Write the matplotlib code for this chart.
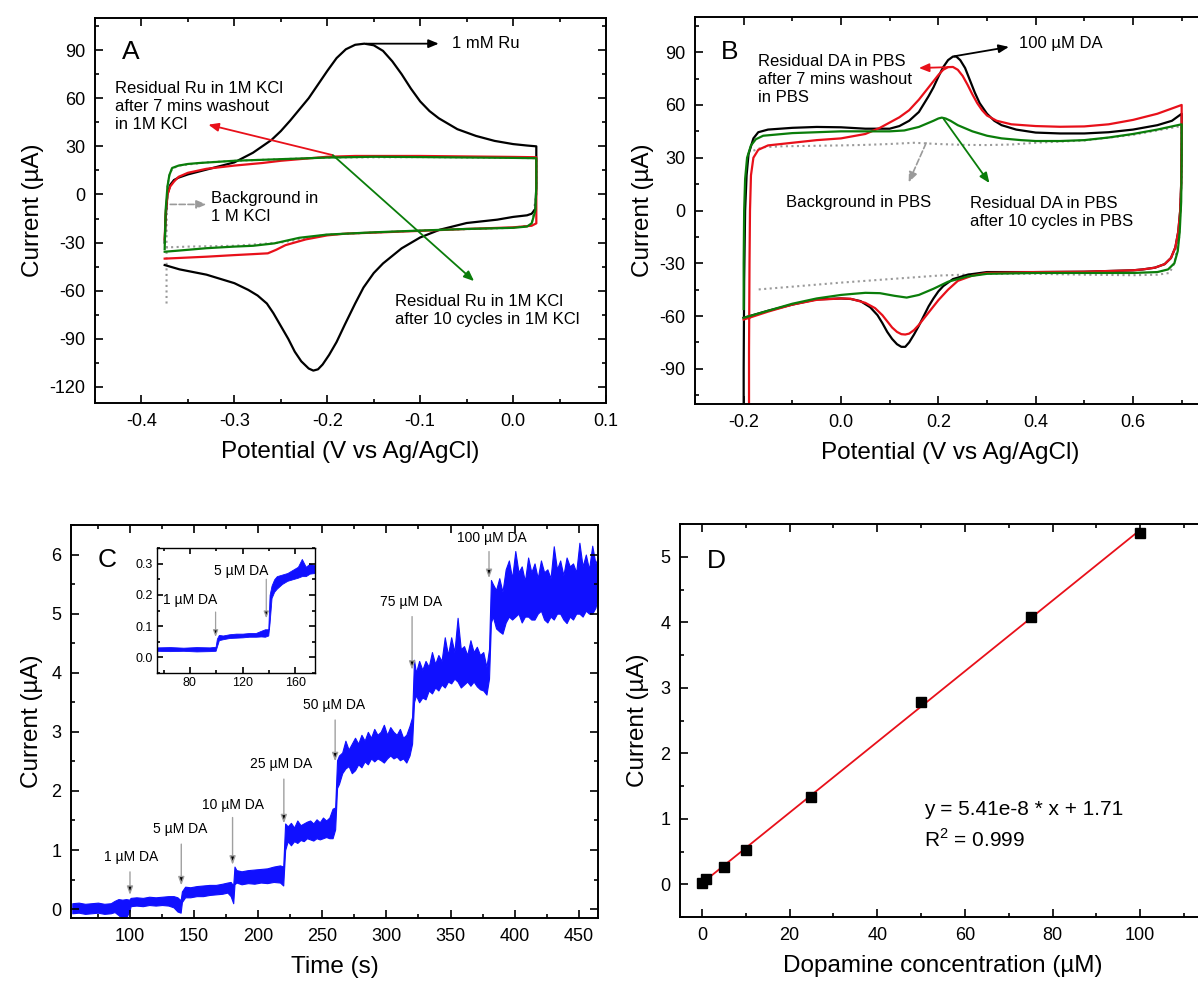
import numpy as np
import matplotlib
matplotlib.use('Agg')
import matplotlib.pyplot as plt
from matplotlib.ticker import MultipleLocator

plt.rcParams['font.family'] = ['Liberation Sans', 'DejaVu Sans']
plt.rcParams['mathtext.fontset'] = 'custom'
plt.rcParams['mathtext.rm'] = 'Liberation Sans'
plt.rcParams['axes.unicode_minus'] = False

RED = '#e8101a'
GREEN = '#0a7d0a'
GRAY = '#9a9a9a'
BLUE = '#1010ff'

# ---------------- panel A: CV in 1M KCl ----------------
a_black_v = [-0.375, -0.374, -0.372, -0.369, -0.365, -0.36, -0.35, -0.33, -0.3, -0.28, -0.26, -0.25,
             -0.24, -0.23, -0.22, -0.21, -0.2, -0.19, -0.18, -0.17, -0.16, -0.15, -0.14, -0.13,
             -0.12, -0.11, -0.1, -0.09, -0.08, -0.06, -0.04, -0.02, 0.0, 0.015, 0.025,
             0.025, 0.024, 0.02, 0.015, 0.0, -0.017, -0.05, -0.079, -0.1, -0.12, -0.14, -0.15,
             -0.161, -0.17, -0.181, -0.19, -0.198, -0.205, -0.21, -0.215, -0.22, -0.228, -0.235,
             -0.242, -0.25, -0.258, -0.265, -0.275, -0.285, -0.3, -0.33, -0.359, -0.375]
a_black_i = [-30, -15, 0, 6, 9, 10.5, 12.5, 15.5, 20, 26, 34, 39.5, 46, 53, 60, 68.5, 77, 85, 90.5,
             93.3, 94, 93, 89.5, 83, 75, 66, 58, 52, 47.5, 40.7, 36.5, 33.4, 31.4, 30.5, 30,
             5, -9, -12, -13, -14, -15.7, -17.8, -22, -26.8, -33.6, -43, -49, -58, -68, -81, -92,
             -100, -106, -109, -109.8, -108.5, -104, -98, -90, -82, -74, -68, -63, -59.5, -55.3,
             -50, -46.7, -44]

a_red_v = [-0.375, -0.374, -0.372, -0.369, -0.365, -0.36, -0.35, -0.33, -0.3, -0.27, -0.25, -0.22,
           -0.2, -0.17, -0.15, -0.1, -0.05, 0.0, 0.025, 0.025, 0.02, 0.0, -0.05, -0.1, -0.15, -0.18,
           -0.2, -0.223, -0.245, -0.255, -0.264, -0.28, -0.3, -0.33, -0.36, -0.375]
a_red_i = [-28, -12, 0, 5, 8, 11, 13.5, 16, 18, 19.6, 21, 22.5, 23.5, 24, 24, 24, 23.7, 23.4, 23.2,
           -18, -19.5, -20.5, -21.5, -22.7, -23.8, -24.4, -25.5, -28, -31.6, -34.5, -36.7, -37.2,
           -37.8, -38.8, -39.6, -40]

a_green_v = [-0.375, -0.374, -0.372, -0.37, -0.367, -0.36, -0.35, -0.338, -0.3, -0.25, -0.2, -0.15,
             -0.1, 0.0, 0.025, 0.025, 0.024, 0.02, 0.015, 0.0, -0.05, -0.1, -0.15, -0.2, -0.23,
             -0.257, -0.28, -0.3, -0.33, -0.36, -0.375]
a_green_i = [-34, -10, 5, 12, 16.5, 18, 19, 19.6, 21, 22, 23, 23.5, 23.3, 22.8, 22.6, 5, -10, -18,
             -20, -20.8, -21.5, -22.5, -23.6, -25, -27, -30.5, -32, -32.5, -33.5, -35, -35.7]

a_bg_v = [-0.373, -0.373, -0.372, -0.37, -0.367, -0.36, -0.33, -0.3, -0.2, -0.1, 0.0, 0.025, 0.025,
          0.02, 0.0, -0.1, -0.2, -0.25, -0.3, -0.35, -0.373]
a_bg_i = [-68, -20, 5, 12, 16, 18, 20, 21, 23, 23.3, 22.8, 22.6, 0, -19, -20.8, -22.5, -25, -30,
          -32, -32.5, -33]

# ---------------- panel B: CV in PBS ----------------
b_black_v = [-0.2, -0.2, -0.199, -0.197, -0.194, -0.19, -0.18, -0.17, -0.15, -0.1, -0.05, 0.0, 0.05,
             0.1, 0.12, 0.14, 0.16, 0.18, 0.19, 0.2, 0.21, 0.22, 0.23, 0.237, 0.245, 0.255, 0.265,
             0.275, 0.285, 0.3, 0.315, 0.33, 0.36, 0.4, 0.45, 0.5, 0.55, 0.6, 0.65, 0.68, 0.7,
             0.7, 0.699, 0.697, 0.693, 0.687, 0.678, 0.665, 0.645, 0.62, 0.6, 0.5, 0.4, 0.3, 0.26,
             0.23, 0.21, 0.2, 0.19, 0.18, 0.17, 0.16, 0.15, 0.14, 0.132, 0.124, 0.115, 0.105,
             0.095, 0.085, 0.075, 0.06, 0.04, 0.02, 0.0, -0.05, -0.1, -0.15, -0.2]
b_black_i = [-130, -90, -40, 0, 20, 32, 41, 44.5, 46, 47, 47.5, 47.3, 46.5, 46.5, 48, 51, 56, 65, 70,
             76, 81.5, 85.5, 87.5, 87.5, 85.5, 81, 74, 67, 61, 55, 51, 48.5, 46, 44.3, 43.8, 43.8,
             44.5, 46, 48.5, 51, 55, 40, 15, 0, -12, -21, -27, -30.5, -32.5, -33.5, -34, -34.8,
             -35, -35, -36.5, -39, -43, -46, -50, -54.5, -60, -65.5, -70.5, -75, -77.5, -77.5,
             -76, -73, -69, -64, -59.5, -55, -51.5, -50.3, -50, -50.5, -53.5, -57, -61]

b_red_v = [-0.189, -0.189, -0.188, -0.187, -0.185, -0.18, -0.17, -0.15, -0.1, -0.05, 0.0, 0.05, 0.08,
           0.1, 0.12, 0.14, 0.16, 0.18, 0.19, 0.2, 0.21, 0.22, 0.23, 0.24, 0.25, 0.26, 0.27, 0.28,
           0.29, 0.3, 0.32, 0.35, 0.4, 0.45, 0.5, 0.55, 0.6, 0.65, 0.7, 0.7, 0.699, 0.697, 0.693,
           0.687, 0.678, 0.665, 0.645, 0.62, 0.6, 0.5, 0.4, 0.3, 0.27, 0.24, 0.22, 0.2, 0.18,
           0.16, 0.15, 0.14, 0.132, 0.124, 0.115, 0.105, 0.095, 0.085, 0.07, 0.05, 0.02, 0.0,
           -0.05, -0.1, -0.15, -0.2]
b_red_i = [-130, -80, -30, 0, 20, 30, 34.5, 37, 38.5, 40, 41, 43.5, 47, 50, 53, 57, 63, 70, 73.5,
           77, 80, 81.5, 81.6, 80, 76.5, 71.5, 66, 61, 57, 54, 51, 49, 48, 47.6, 47.8, 49, 51.5,
           55, 60, 40, 15, 0, -12, -21, -27, -30.5, -32.5, -33.5, -34, -34.8, -35, -35.5, -37,
           -40, -45, -51, -58, -65, -68, -70, -70.5, -70.3, -69, -66.5, -63, -59.5, -55.5, -52.5,
           -50.2, -50, -50.8, -53.5, -57.5, -62]

b_green_v = [-0.2, -0.2, -0.199, -0.197, -0.193, -0.185, -0.175, -0.16, -0.1, -0.05, 0.0, 0.05, 0.1,
             0.13, 0.16, 0.19, 0.2, 0.207, 0.215, 0.225, 0.24, 0.27, 0.3, 0.33, 0.37, 0.4, 0.45,
             0.5, 0.55, 0.6, 0.65, 0.7, 0.7, 0.699, 0.696, 0.692, 0.685, 0.672, 0.65, 0.6, 0.5,
             0.4, 0.3, 0.26, 0.22, 0.19, 0.16, 0.135, 0.11, 0.08, 0.05, 0.02, 0.0, -0.05, -0.1,
             -0.15, -0.2]
b_green_i = [-56, -30, 0, 18, 30, 37, 40.5, 42.5, 44, 44.5, 45, 45, 45, 45.5, 47.5, 51, 52.3, 52.8,
             52.3, 51, 48.5, 45, 42.5, 41, 40, 39.5, 39.5, 40, 41.5, 43.5, 46, 49, 30, 5, -12, -23,
             -30, -33.5, -35, -35.5, -35.5, -35.5, -36, -37.5, -40.5, -44.5, -48, -49.5, -48.5,
             -47, -46.8, -47.5, -48, -50, -53, -57, -61]

b_bg_v = [-0.18, -0.16, -0.12, -0.05, 0.0, 0.05, 0.1, 0.15, 0.2, 0.25, 0.3, 0.35, 0.4, 0.5, 0.6,
          0.65, 0.7, 0.7, 0.695, 0.685, 0.675, 0.65, 0.6, 0.5, 0.4, 0.3, 0.2, 0.1, 0.0, -0.1, -0.175]
b_bg_i = [34, 36, 36.5, 36.8, 37, 37.3, 37.8, 38.5, 37.8, 37.3, 37.2, 37.5, 38.5, 39.8, 43, 45.5, 48,
          20, -15, -30, -35.5, -36.5, -36.8, -36.5, -36, -36, -37, -39, -41, -43.3, -45]

# ---------------- panel C: amperometric trace (noise envelope) ----------------
c_t = [55, 60, 65, 70, 75, 80, 85, 88, 91, 94, 97, 99.5,
       100.5, 105, 110, 115, 120, 125, 130, 134, 137, 139.5,
       140.5, 143, 147, 152, 157, 162, 167, 172, 176, 178.5, 180.5,
       181.5, 183, 187, 192, 197, 202, 207, 212, 217, 219.5,
       221, 223, 225.5, 228, 230.5, 233, 235.5, 238, 240.5, 243, 245.5, 248, 250.5, 253, 255.5,
       258, 260,
       261.5, 263, 265.5, 268, 270.5, 273, 275.5, 278, 280.5, 283, 285.5, 288, 290.5, 293, 295.5,
       298, 300.5, 303, 305.5, 308, 310.5, 313, 315.5, 318, 320,
       321.5, 323, 325.5, 328, 330.5, 333, 335.5, 338, 340.5, 343, 345.5, 348, 350.5, 353, 355.5,
       358, 360.5, 363, 365.5, 368, 370.5, 373, 375.5, 378, 380,
       381.5, 383, 385.5, 388, 390.5, 393, 395.5, 398, 400.5, 403, 405.5, 408, 410.5, 413, 415.5,
       418, 420.5, 423, 425.5, 428, 430.5, 433, 435.5, 438, 440.5, 443, 445.5, 448, 450.5, 453,
       455.5, 458, 460.5, 463, 465]
c_lo = [-0.07, -0.06, -0.08, -0.07, -0.06, -0.08, -0.07, -0.05, -0.10, -0.16, -0.14, -0.04,
        0.05, 0.06, 0.05, 0.07, 0.06, 0.07, 0.06, 0.03, -0.04, -0.06,
        0.12, 0.20, 0.20, 0.22, 0.22, 0.24, 0.25, 0.26, 0.28, 0.22, 0.10,
        0.42, 0.45, 0.42, 0.44, 0.43, 0.45, 0.44, 0.46, 0.45, 0.40,
        1.00, 1.15, 1.08, 1.15, 1.12, 1.17, 1.15, 1.20, 1.18, 1.16, 1.20, 1.18, 1.20, 1.22, 1.20,
        1.20, 1.35,
        2.05, 2.12, 2.30, 2.38, 2.42, 2.30, 2.35, 2.45, 2.40, 2.50, 2.45, 2.55, 2.50, 2.55, 2.52,
        2.48, 2.55, 2.60, 2.55, 2.58, 2.52, 2.55, 2.48, 2.60, 2.80,
        3.50, 3.62, 3.50, 3.58, 3.55, 3.70, 3.65, 3.75, 3.70, 3.80, 3.75, 3.85, 3.82, 3.90, 3.85,
        3.75, 3.80, 3.85, 3.78, 3.85, 3.77, 3.72, 3.70, 3.63, 3.90,
        4.85, 4.95, 4.75, 4.70, 4.66, 4.85, 4.95, 4.90, 4.95, 5.00, 4.85, 4.95, 4.95, 4.90, 4.90,
        5.00, 5.05, 4.90, 4.85, 4.95, 4.90, 5.00, 5.00, 4.90, 4.84, 4.95, 4.90, 5.00, 5.00, 4.95,
        5.05, 5.00, 5.00, 5.10, 5.30]
c_hi = [0.10, 0.11, 0.09, 0.10, 0.11, 0.09, 0.10, 0.14, 0.17, 0.16, 0.17, 0.16,
        0.19, 0.20, 0.19, 0.21, 0.20, 0.21, 0.22, 0.22, 0.20, 0.15,
        0.30, 0.38, 0.37, 0.39, 0.40, 0.41, 0.41, 0.43, 0.45, 0.46, 0.40,
        0.72, 0.66, 0.64, 0.66, 0.67, 0.68, 0.69, 0.72, 0.74, 0.72,
        1.45, 1.40, 1.46, 1.38, 1.50, 1.42, 1.45, 1.48, 1.50, 1.45, 1.52, 1.47, 1.55, 1.50, 1.55,
        1.70, 1.72,
        2.52, 2.60, 2.65, 2.85, 2.70, 2.80, 2.90, 2.80, 2.95, 2.85, 3.00, 2.90, 3.05, 2.95, 3.00,
        3.12, 2.95, 3.08, 3.00, 2.95, 3.05, 2.90, 2.95, 3.10, 3.25,
        4.22, 4.00, 4.20, 4.05, 4.20, 4.10, 4.35, 4.15, 4.30, 4.20, 4.60, 4.30, 4.60, 4.35, 4.93,
        4.40, 4.45, 4.30, 4.55, 4.35, 4.44, 4.30, 4.35, 4.10, 4.40,
        5.57, 5.50, 5.40, 5.60, 5.37, 5.75, 5.90, 5.60, 6.06, 5.70, 5.80, 5.55, 5.95, 5.70, 5.85,
        5.60, 5.90, 5.70, 5.75, 5.60, 6.14, 5.75, 5.90, 5.65, 5.95, 5.80, 5.85, 5.70, 6.20, 5.80,
        6.00, 5.75, 6.15, 5.85, 5.95]

c_inj_t = [100, 140, 180, 220, 260, 320, 380]
c_inj_lab = ['1 µM DA', '5 µM DA', '10 µM DA', '25 µM DA', '50 µM DA', '75 µM DA', '100 µM DA']
c_arrow_top = [0.63, 1.10, 1.55, 2.20, 3.20, 4.95, 6.05]
c_arrow_tip = [0.24, 0.40, 0.75, 1.45, 2.50, 4.05, 5.60]
c_lab_x = [101, 139, 180, 218, 259, 319, 382]
c_lab_y = [0.89, 1.35, 1.76, 2.45, 3.46, 5.19, 6.28]

# inset
ci_t = [55, 65, 75, 85, 95, 99.5,
        100.5, 102, 105, 110, 115, 120, 125, 130, 134, 137, 139.5,
        140.5, 142, 144, 146, 150, 154, 158, 162, 165, 168, 171, 175]
ci_lo = [0.021, 0.020, 0.021, 0.019, 0.020, 0.021,
         0.035, 0.055, 0.058, 0.062, 0.063, 0.064, 0.066, 0.066, 0.067, 0.066, 0.070,
         0.110, 0.190, 0.210, 0.220, 0.235, 0.245, 0.250, 0.255, 0.260, 0.260, 0.268, 0.270]
ci_hi = [0.032, 0.033, 0.031, 0.033, 0.032, 0.034,
         0.060, 0.072, 0.070, 0.074, 0.076, 0.076, 0.078, 0.078, 0.085, 0.090, 0.090,
         0.200, 0.230, 0.250, 0.260, 0.265, 0.270, 0.280, 0.290, 0.315, 0.290, 0.300, 0.295]

# ---------------- panel D: calibration ----------------
d_conc = [0, 1, 5, 10, 25, 50, 75, 100]
d_curr = [0.025, 0.076, 0.27, 0.53, 1.33, 2.79, 4.08, 5.37]


def style_axes(ax, xmaj, xmin, ymaj, ymin, size=13):
    ax.xaxis.set_major_locator(MultipleLocator(xmaj))
    ax.xaxis.set_minor_locator(MultipleLocator(xmin))
    ax.yaxis.set_major_locator(MultipleLocator(ymaj))
    ax.yaxis.set_minor_locator(MultipleLocator(ymin))
    ax.tick_params(which='both', direction='in', top=True, right=True, width=1.2)
    ax.tick_params(which='major', length=6, labelsize=size, pad=7)
    ax.tick_params(which='minor', length=3)
    for s in ax.spines.values():
        s.set_linewidth(1.4)


def arrow(ax, tail, head, color, ls='-', lw=1.3):
    ax.annotate('', xy=head, xytext=tail,
                arrowprops=dict(arrowstyle='-|>,head_length=0.6,head_width=0.25',
                                color=color, lw=lw, ls=ls, shrinkA=0, shrinkB=0))


def inj_arrow(ax, x, top, tip, lw=1.0, hl=0.5, hw=0.18):
    ax.annotate('', xy=(x, tip), xytext=(x, top),
                arrowprops=dict(arrowstyle='-|>,head_length=%g,head_width=%g' % (hl, hw),
                                ec='#a0a0a0', fc='k', lw=lw, shrinkA=0, shrinkB=0))


fig = plt.figure(figsize=(11.98, 9.83), dpi=100)
W, H = 1198, 983


def axes_px(l, t, r, b):
    return fig.add_axes([l / W, 1 - b / H, (r - l) / W, (b - t) / H])


LBL = 17.5
ANN = 12

# A
axA = axes_px(95, 18, 606, 403)
axA.plot(a_bg_v, a_bg_i, color=GRAY, lw=1.5, ls=':')
axA.plot(a_black_v, a_black_i, color='k', lw=1.6)
axA.plot(a_red_v, a_red_i, color=RED, lw=1.6)
axA.plot(a_green_v, a_green_i, color=GREEN, lw=1.6)
axA.set_xlim(-0.45, 0.1)
axA.set_ylim(-130, 110)
style_axes(axA, 0.1, 0.05, 30, 15)
axA.set_xlabel('Potential (V vs Ag/AgCl)', fontsize=LBL, labelpad=8)
axA.set_ylabel('Current (µA)', fontsize=LBL, labelpad=4)
axA.text(0.053, 0.912, 'A', transform=axA.transAxes, fontsize=19, va='center')
arrow(axA, (-0.158, 94), (-0.08, 94), 'k')
axA.text(-0.066, 94, '1 mM Ru', fontsize=ANN, va='center')
arrow(axA, (-0.194, 24.5), (-0.328, 43.5), RED)
axA.text(-0.4285, 55, 'Residual Ru in 1M KCl\nafter 7 mins washout\nin 1M KCl', fontsize=ANN,
         va='center', linespacing=1.25)
arrow(axA, (-0.194, 24.5), (-0.042, -54), GREEN)
axA.text(-0.127, -72.5, 'Residual Ru in 1M KCl\nafter 10 cycles in 1M KCl', fontsize=ANN,
         va='center', linespacing=1.25)
arrow(axA, (-0.369, -6.2), (-0.33, -6.2), GRAY, ls='--', lw=1.2)
axA.text(-0.325, -8, 'Background in\n1 M KCl', fontsize=ANN, va='center', linespacing=1.25)

# B
axB = axes_px(695, 17, 1206, 404)
axB.plot(b_bg_v, b_bg_i, color=GRAY, lw=1.5, ls=':')
axB.plot(b_black_v, b_black_i, color='k', lw=1.6)
axB.plot(b_red_v, b_red_i, color=RED, lw=1.6)
axB.plot(b_green_v, b_green_i, color=GREEN, lw=1.6)
axB.set_xlim(-0.3, 0.75)
axB.set_ylim(-110, 110)
style_axes(axB, 0.2, 0.1, 30, 15)
axB.set_xlabel('Potential (V vs Ag/AgCl)', fontsize=LBL, labelpad=8)
axB.set_ylabel('Current (µA)', fontsize=LBL, labelpad=4)
axB.text(0.051, 0.91, 'B', transform=axB.transAxes, fontsize=19, va='center')
arrow(axB, (0.233, 87.7), (0.345, 93), 'k')
axB.text(0.365, 95, '100 µM DA', fontsize=ANN, va='center')
arrow(axB, (0.222, 81.5), (0.16, 81), RED)
axB.text(-0.171, 74.6, 'Residual DA in PBS\nafter 7 mins washout\nin PBS', fontsize=ANN,
         va='center', linespacing=1.25)
arrow(axB, (0.175, 38.4), (0.139, 16), GRAY, ls='--', lw=1.2)
axB.text(-0.112, 4.7, 'Background in PBS', fontsize=ANN, va='center')
arrow(axB, (0.211, 52), (0.305, 15.6), GREEN)
axB.text(0.266, -1.2, 'Residual DA in PBS\nafter 10 cycles in PBS', fontsize=ANN, va='center',
         linespacing=1.25)

# C
axC = axes_px(71, 525, 598, 918)
axC.fill_between(c_t, c_lo, c_hi, color=BLUE, lw=0.8, edgecolor=BLUE)
axC.set_xlim(54, 465)
axC.set_ylim(-0.15, 6.5)
style_axes(axC, 50, 25, 1, 0.5)
axC.set_xlabel('Time (s)', fontsize=LBL, labelpad=8)
axC.set_ylabel('Current (µA)', fontsize=LBL, labelpad=6)
axC.text(0.051, 0.911, 'C', transform=axC.transAxes, fontsize=19, va='center')
for t, top, tip, lx, ly, lab in zip(c_inj_t, c_arrow_top, c_arrow_tip, c_lab_x, c_lab_y, c_inj_lab):
    inj_arrow(axC, t, top, tip)
    axC.text(lx, ly, lab, fontsize=10, ha='center', va='center')

axI = axes_px(157, 548, 315, 673)
axI.fill_between(ci_t, ci_lo, ci_hi, color=BLUE, lw=0.6, edgecolor=BLUE)
axI.set_xlim(55, 175)
axI.set_ylim(-0.05, 0.35)
style_axes(axI, 40, 20, 0.1, 0.05, size=9)
axI.tick_params(which='major', length=4, pad=3)
axI.tick_params(which='minor', length=2)
axI.set_yticks([0.0, 0.1, 0.2, 0.3])
axI.set_yticklabels(['0.0', '0.1', '0.2', '0.3'])
for s in axI.spines.values():
    s.set_linewidth(1.0)
inj_arrow(axI, 99.5, 0.145, 0.065, lw=0.9, hl=0.4, hw=0.15)
axI.text(80, 0.183, '1 µM DA', fontsize=10, ha='center', va='center')
inj_arrow(axI, 138, 0.25, 0.125, lw=0.9, hl=0.4, hw=0.15)
axI.text(118.6, 0.278, '5 µM DA', fontsize=10, ha='center', va='center')

# D
axD = axes_px(680, 524, 1206, 917)
slope, icpt = np.polyfit(d_conc, d_curr, 1)
fx = np.array([d_conc[0], d_conc[-1]])
axD.plot(fx, slope * fx + icpt, color=RED, lw=1.3)
axD.plot(d_conc, d_curr, 's', color='k', ms=6.5)
axD.set_xlim(-5, 115)
axD.set_ylim(-0.5, 5.5)
style_axes(axD, 20, 10, 1, 0.5)
axD.set_xlabel('Dopamine concentration (µM)', fontsize=LBL, labelpad=8)
axD.set_ylabel('Current (µA)', fontsize=LBL, labelpad=8)
axD.text(0.051, 0.906, 'D', transform=axD.transAxes, fontsize=19, va='center')
axD.text(50.6, 1.14, 'y = 5.41e-8 * x + 1.71', fontsize=15, va='center')
axD.text(50.6, 0.69, 'R$^2$ = 0.999', fontsize=15, va='center')

fig.savefig('out.png', dpi=100)
